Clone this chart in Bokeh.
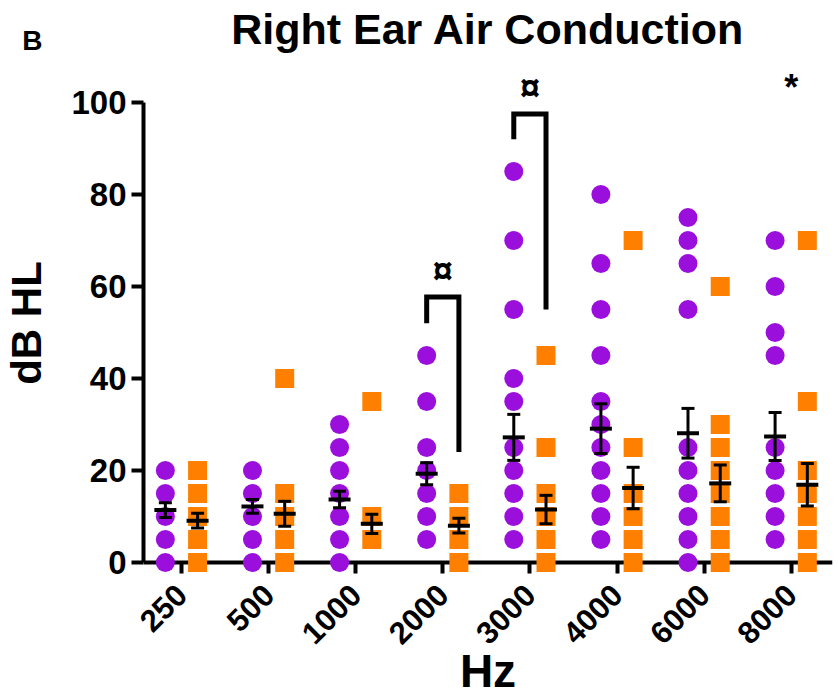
import math
from bokeh.plotting import figure
from bokeh.layouts import column
from bokeh.models import Range1d, FixedTicker, Span
from bokeh.core.properties import value
from bokeh.embed import file_html
from bokeh.resources import INLINE

# ---------------- data ----------------
freqs = ["250", "500", "1000", "2000", "3000", "4000", "6000", "8000"]

group1_points = [
    [0, 5, 10, 15, 20],
    [0, 5, 10, 15, 20],
    [0, 5, 10, 15, 20, 25, 30],
    [5, 10, 15, 20, 25, 35, 45],
    [5, 10, 15, 20, 25, 35, 40, 55, 70, 85],
    [5, 10, 15, 20, 25, 30, 35, 45, 55, 65, 80],
    [0, 5, 10, 15, 20, 25, 55, 65, 70, 75],
    [5, 10, 15, 20, 25, 45, 50, 60, 70],
]
group2_points = [
    [0, 5, 10, 15, 20],
    [0, 5, 10, 15, 40],
    [5, 10, 35],
    [0, 5, 10, 15],
    [0, 5, 10, 15, 25, 45],
    [0, 5, 10, 15, 25, 70],
    [0, 5, 10, 15, 20, 25, 30, 60],
    [0, 5, 10, 15, 20, 35, 70],
]
group1_mean = [11.4, 12.2, 13.7, 19.3, 27.2, 29.1, 28.1, 27.4]
group1_sem = [1.6, 1.5, 1.8, 2.4, 5.0, 5.4, 5.4, 5.2]
group2_mean = [9.1, 10.6, 8.4, 8.0, 11.5, 16.2, 17.2, 16.9]
group2_sem = [1.6, 2.7, 2.1, 1.6, 3.1, 4.5, 4.0, 4.6]

sig_bracket_idx = [3, 4]
sig_bracket_top = [57.7, 97.5]
sig_bracket_left_end = [52.0, 92.0]
sig_bracket_right_end = [24.0, 55.0]
sig_bracket_symbol = ["¤", "¤"]
sig_star_idx = [7]
sig_star_y = [103.3]
sig_star_symbol = ["*"]

title_text = "Right Ear Air Conduction"
panel_letter = "B"

# ---------------- style ----------------
PURPLE = "#9B0FDD"
ORANGE = "#FF8000"
FONT = "Liberation Sans"
DODGE = 0.185
X0, X1 = -0.436, 7.474
W = 838
FRAME_L, FRAME_R = 143, 832
HEADER_H = 60
MAIN_H = 699 - HEADER_H
BOTTOM_BORDER = 114
PX_PER_DB = 4.6
ZERO_PX = 562 - HEADER_H          # pixel row of 0 dB inside main figure
Y0 = -(MAIN_H - BOTTOM_BORDER - ZERO_PX) / PX_PER_DB
Y1 = ZERO_PX / PX_PER_DB

# ---------------- header strip (panel letter + title) ----------------
head = figure(width=W, height=HEADER_H, x_range=Range1d(FRAME_L, FRAME_R),
              y_range=Range1d(HEADER_H, 0), x_axis_type=None,
              output_backend="svg", toolbar_location=None, min_border=0)
head.grid.visible = False
head.outline_line_color = None
hy = head.yaxis[0]
hy.ticker = FixedTicker(ticks=[40])
hy.major_label_overrides = {40: panel_letter}
hy.axis_line_color = None
hy.major_tick_line_color = None
hy.minor_tick_line_color = None
hy.major_tick_in = 0
hy.major_tick_out = 0
hy.major_label_standoff = FRAME_L - 42
hy.major_label_text_font = FONT
hy.major_label_text_font_style = "bold"
hy.major_label_text_font_size = "28px"
hy.major_label_text_color = "black"
head.text(x=[(FRAME_L + FRAME_R) / 2], y=[28], text=[title_text],
          text_font=value(FONT), text_font_style="bold", text_font_size="43px",
          text_align="center", text_baseline="middle", text_color="black")

# ---------------- main plot ----------------
p = figure(width=W, height=MAIN_H,
           x_range=Range1d(X0, X1), y_range=Range1d(Y0, Y1),
           output_backend="svg", toolbar_location=None,
           min_border_left=FRAME_L, min_border_right=W - FRAME_R,
           min_border_top=0, min_border_bottom=BOTTOM_BORDER)
p.grid.visible = False
p.outline_line_color = None

# y axis
ya = p.yaxis[0]
ya.bounds = (0, 100)
ya.ticker = FixedTicker(ticks=[0, 20, 40, 60, 80, 100])
ya.minor_tick_line_color = None
ya.axis_line_width = 4
ya.major_tick_line_width = 4
ya.major_tick_in = 0
ya.major_tick_out = 12
ya.major_label_text_font = FONT
ya.major_label_text_font_style = "bold"
ya.major_label_text_font_size = "33px"
ya.major_label_text_color = "black"
ya.major_label_standoff = 5
ya.axis_label = "dB HL"
ya.axis_label_text_font = FONT
ya.axis_label_text_font_style = "bold"
ya.axis_label_text_font_size = "42px"
ya.axis_label_text_color = "black"
ya.axis_label_standoff = 18

# x axis (its line is drawn as a span at 0 dB)
xa = p.xaxis[0]
xa.ticker = FixedTicker(ticks=list(range(len(freqs))))
xa.major_label_overrides = {i: f for i, f in enumerate(freqs)}
xa.major_label_orientation = math.pi / 4
xa.axis_line_color = None
xa.minor_tick_line_color = None
xa.major_tick_line_width = 4
xa.major_tick_in = 23
xa.major_tick_out = -12
xa.major_label_standoff = 4
xa.major_label_text_font = FONT
xa.major_label_text_font_style = "bold"
xa.major_label_text_font_size = "31px"
xa.major_label_text_color = "black"
xa.axis_label = "Hz"
xa.axis_label_text_font = FONT
xa.axis_label_text_font_style = "bold"
xa.axis_label_text_font_size = "46px"
xa.axis_label_text_color = "black"
xa.axis_label_standoff = -12

p.add_layout(Span(location=0, dimension="width", line_color="black", line_width=4, level="underlay"))

# points
g1x, g1y, g2x, g2y = [], [], [], []
for i, vals in enumerate(group1_points):
    g1x += [i - DODGE] * len(vals)
    g1y += vals
for i, vals in enumerate(group2_points):
    g2x += [i + DODGE] * len(vals)
    g2y += vals
p.scatter(g1x, g1y, marker="circle", size=19, fill_color=PURPLE, line_color=None)
p.scatter(g2x, g2y, marker="square", size=19, fill_color=ORANGE, line_color=None)

# mean +/- SEM
for off, means, sems in [(-DODGE, group1_mean, group1_sem), (DODGE, group2_mean, group2_sem)]:
    xs = [i + off for i in range(len(freqs))]
    lo = [m - s for m, s in zip(means, sems)]
    hi = [m + s for m, s in zip(means, sems)]
    p.segment(xs, lo, xs, hi, line_color="black", line_width=3)
    p.scatter(xs + xs, lo + hi, marker="dash", size=13, line_color="black", line_width=3)
    p.scatter(xs, means, marker="dash", size=22, line_color="black", line_width=4)

# significance brackets and marks
bxs, bys = [], []
for i, top, le, re in zip(sig_bracket_idx, sig_bracket_top, sig_bracket_left_end, sig_bracket_right_end):
    xl, xr = i - DODGE, i + DODGE
    bxs.append([xl, xl, xr, xr])
    bys.append([le, top, top, re])
p.multi_line(bxs, bys, line_color="black", line_width=5, line_join="miter")
p.text(x=list(sig_bracket_idx), y=[t + 5.8 for t in sig_bracket_top], text=sig_bracket_symbol,
       text_font=value(FONT), text_font_style="bold", text_font_size="36px",
       text_align="center", text_baseline="middle", text_color="black")
p.text(x=list(sig_star_idx), y=sig_star_y, text=sig_star_symbol,
       text_font=value(FONT), text_font_style="bold", text_font_size="36px",
       text_align="center", text_baseline="middle", text_color="black")

layout = column(head, p, spacing=0)
open("out.html", "w").write(file_html(layout, INLINE))
